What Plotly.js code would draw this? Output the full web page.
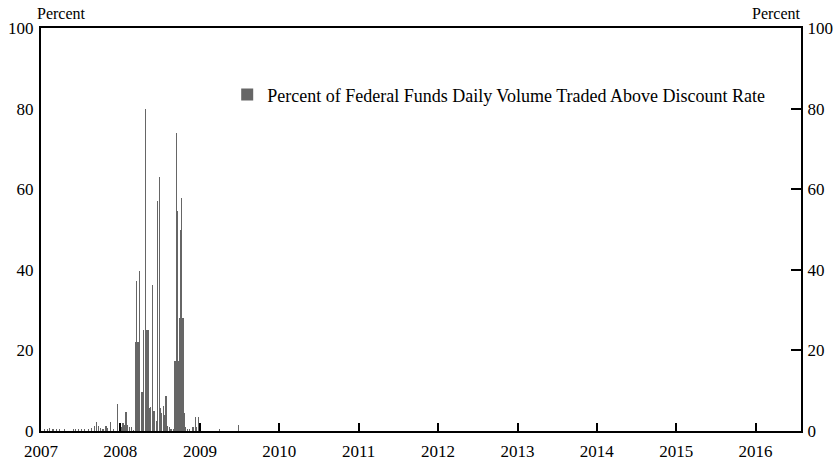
<!DOCTYPE html>
<html>
<head>
<meta charset="utf-8">
<script src="https://cdn.plot.ly/plotly-3.0.1.min.js"></script>
<style>html,body{margin:0;padding:0;background:#fff;}#chart{width:840px;height:464px;}</style>
</head>
<body>
<div id="chart"></div>
<script>
// Percent of federal funds daily volume traded above the discount rate
const dates = [
  "2007-01-19","2007-01-31","2007-02-11","2007-02-25","2007-03-14","2007-03-29","2007-04-18",
  "2007-05-30","2007-06-10","2007-06-22","2007-07-07","2007-07-19","2007-08-07","2007-08-22",
  "2007-09-02","2007-09-14","2007-09-22","2007-10-03","2007-10-13","2007-10-27","2007-11-02",
  "2007-11-18","2007-11-30","2007-12-18",
  "2008-01-04","2008-01-13","2008-01-20","2008-01-27","2008-02-03","2008-02-14","2008-02-21",
  "2008-03-03","2008-03-13","2008-03-16","2008-03-22","2008-03-26","2008-03-31","2008-04-06",
  "2008-04-12","2008-04-17","2008-04-25","2008-05-01","2008-05-07","2008-05-13","2008-05-18",
  "2008-05-27","2008-06-01","2008-06-08","2008-06-14","2008-06-21","2008-06-27","2008-07-03",
  "2008-07-09","2008-07-16","2008-07-22","2008-07-29","2008-08-05","2008-08-12","2008-08-18",
  "2008-08-25","2008-08-31","2008-09-06","2008-09-11","2008-09-16","2008-09-20","2008-09-25",
  "2008-10-01","2008-10-06","2008-10-10","2008-10-15","2008-10-20","2008-10-26","2008-11-05",
  "2008-11-16","2008-11-30","2008-12-11","2008-12-18","2008-12-25",
  "2009-01-02","2009-03-30","2009-06-26"
];
const pctAbove = [
  0.4,0.4,0.8,0.4,0.4,0.4,0.4,
  0.4,0.4,0.4,0.4,0.6,0.6,0.8,
  1.2,2.2,1.2,0.8,0.4,1.2,0.8,
  2.3,0.4,6.6,
  1.0,2.0,1.5,4.7,1.5,1.1,1.1,
  0.3,22,37.3,22,22,39.8,9.7,
  9.7,25,80,25,25,5.8,6.0,
  36.3,5.0,5.0,2.5,57,63,5.8,
  4.5,6.2,4.0,8.7,1.2,1.0,0.5,
  0.5,0.5,17.4,17.4,74,54.6,17.4,
  28,50,57.8,28,4.5,1.0,0.5,
  0.5,1.0,3.5,1.0,3.5,
  1.0,0.5,1.5
];
const yearTicks = ["2007-01-01","2008-01-01","2009-01-01","2010-01-01","2011-01-01","2012-01-01","2013-01-01","2014-01-01","2015-01-01","2016-01-01"];
const yearLabels = ["2007","2008","2009","2010","2011","2012","2013","2014","2015","2016"];
const yTicks = [0,20,40,60,80,100];
const seriesName = "Percent of Federal Funds Daily Volume Traded Above Discount Rate";

const FONT = "Liberation Serif, Times New Roman, serif";
const DAY = 86400000;

const traces = [
  {
    type: "bar", x: dates, y: pctAbove, name: seriesName,
    width: dates.map(() => 5 * DAY),
    marker: {color: "#666666", line: {width: 0}},
    hoverinfo: "x+y"
  },
  {
    type: "scatter", x: [yearTicks[0]], y: [0], yaxis: "y2",
    mode: "markers", marker: {opacity: 0}, showlegend: false, hoverinfo: "skip"
  }
];

const layout = {
  width: 840, height: 464,
  margin: {l: 41, r: 39, t: 28, b: 33},
  paper_bgcolor: "#fff", plot_bgcolor: "#fff",
  font: {family: FONT, size: 16, color: "#000"},
  bargap: 0,
  showlegend: true,
  legend: {
    x: 0.245, y: 0.834, xanchor: "left", yanchor: "middle",
    bgcolor: "rgba(0,0,0,0)", font: {family: FONT, size: 18, color: "#000"},
    itemwidth: 30
  },
  xaxis: {
    type: "date", range: ["2007-01-01", "2016-07-28"],
    tickmode: "array", tickvals: yearTicks, ticktext: yearLabels,
    ticks: "inside", ticklen: 8, tickwidth: 2, tickcolor: "#000",
    showline: true, linewidth: 2, linecolor: "#000", mirror: true,
    showgrid: false, zeroline: false,
    ticklabelstandoff: 4,
    tickfont: {family: FONT, size: 17}
  },
  yaxis: {
    range: [0, 100], tickmode: "array", tickvals: yTicks,
    ticks: "", showline: true, linewidth: 2, linecolor: "#000",
    showgrid: false, zeroline: false,
    ticklabelstandoff: 2,
    tickfont: {family: FONT, size: 17}
  },
  yaxis2: {
    overlaying: "y", side: "right",
    range: [0, 100], tickmode: "array", tickvals: yTicks,
    ticks: "inside", ticklen: 10, tickwidth: 2, tickcolor: "#000",
    showline: true, linewidth: 2, linecolor: "#000",
    showgrid: false, zeroline: false,
    ticklabelstandoff: 1,
    tickfont: {family: FONT, size: 17}
  },
  annotations: [
    {text: "Percent", xref: "paper", yref: "paper", x: 0, y: 1, xanchor: "left", yanchor: "bottom",
     showarrow: false, xshift: -6, yshift: 4, font: {family: FONT, size: 16}},
    {text: "Percent", xref: "paper", yref: "paper", x: 1, y: 1, xanchor: "right", yanchor: "bottom",
     showarrow: false, xshift: 2, yshift: 4, font: {family: FONT, size: 16}}
  ]
};

Plotly.newPlot("chart", traces, layout, {displayModeBar: false, staticPlot: true});
</script>
</body>
</html>
